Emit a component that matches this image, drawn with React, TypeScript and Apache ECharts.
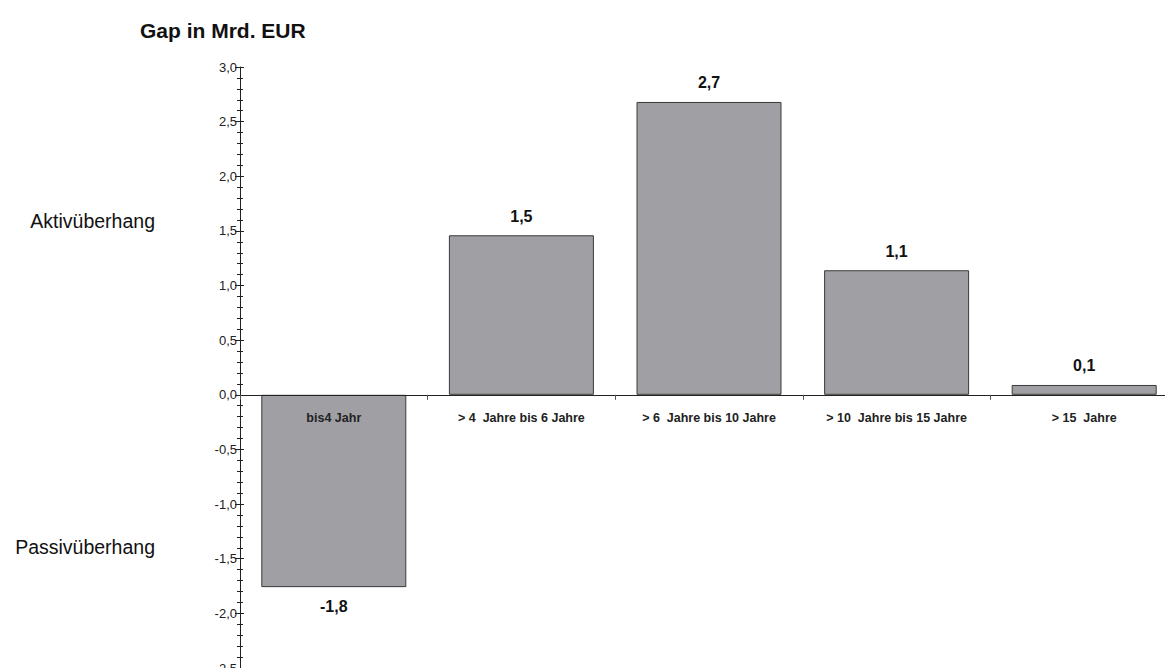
import React, { useEffect, useRef } from "react";
import * as echarts from "echarts";

const categories = ["bis4 Jahr", "> 4  Jahre bis 6 Jahre", "> 6  Jahre bis 10 Jahre", "> 10  Jahre bis 15 Jahre", "> 15  Jahre"];
const gapValues = [-1.76, 1.46, 2.68, 1.14, 0.09];
const yMin = -2.5;
const yMax = 3.0;
const yInterval = 0.5;
const titleText = "Gap in Mrd. EUR";
const upperNote = "Aktivüberhang";
const lowerNote = "Passivüberhang";

const fmt = (v: number) => v.toFixed(1).replace(".", ",");
const fmtRounded = (v: number) => (Math.round(v * 10) / 10).toFixed(1).replace(".", ",");

const GRID_TOP = 67;
const GRID_BOTTOM = 0;
const CHART_H = 668;

export default function App() {
  const ref = useRef<HTMLDivElement>(null);
  useEffect(() => {
    document.body.style.margin = "0";
    const chart = echarts.init(ref.current!, null, { renderer: "svg" });
    const font = "'Liberation Sans', Arial, Helvetica, sans-serif";
    const gridH = CHART_H - GRID_TOP - GRID_BOTTOM;
    const zeroFromBottom = gridH * (0 - yMin) / (yMax - yMin);
    chart.setOption({
      animation: false,
      backgroundColor: "#ffffff",
      textStyle: { fontFamily: font },
      grid: { left: 240, right: -13, top: GRID_TOP, bottom: GRID_BOTTOM, containLabel: false, outerBoundsMode: "none" },
      graphic: [
        { type: "text", x: 140, y: 30, style: { text: titleText, font: `bold 21px ${font}`, fill: "#111", verticalAlign: "middle" } },
        { type: "text", x: 155, y: 221, style: { text: upperNote, font: `19.5px ${font}`, fill: "#111", align: "right", verticalAlign: "middle" } },
        { type: "text", x: 155, y: 547, style: { text: lowerNote, font: `19.5px ${font}`, fill: "#111", align: "right", verticalAlign: "middle" } },
      ],
      xAxis: {
        type: "category",
        data: categories,
        z: 10,
        position: "bottom",
        offset: -zeroFromBottom,
        axisLine: { onZero: false, lineStyle: { color: "#222", width: 1 } },
        axisTick: { show: true, length: 5, inside: false, lineStyle: { color: "#555" } },
        axisLabel: { margin: 17, fontSize: 12.5, fontWeight: "bold", color: "#222", interval: 0 },
        splitLine: { show: false },
      },
      yAxis: [
        {
          type: "value",
          min: yMin,
          max: yMax,
          interval: yInterval,
          position: "left",
          axisLine: { show: true, onZero: false, lineStyle: { color: "#222", width: 1 } },
          axisTick: { show: true, length: 5, inside: false, lineStyle: { color: "#222" } },
          minorTick: { show: true, splitNumber: 5, length: 3, lineStyle: { color: "#222" } },
          axisLabel: { formatter: fmt, fontSize: 13, color: "#222", margin: 3 },
          splitLine: { show: false },
          minorSplitLine: { show: false },
        },
        {
          type: "value",
          min: yMin,
          max: yMax,
          interval: yInterval,
          position: "left",
          offset: 0,
          axisLine: { show: false },
          axisTick: { show: true, length: 4, inside: true, lineStyle: { color: "#222" } },
          minorTick: { show: true, splitNumber: 5, length: 3, lineStyle: { color: "#222" } },
          axisLabel: { show: false },
          splitLine: { show: false },
        },
      ],
      series: [
        {
          type: "bar",
          yAxisIndex: 0,
          barWidth: 145,
          itemStyle: { color: "#a0a0a4", borderColor: "#3a3a3a", borderWidth: 1 },
          data: gapValues.map((v) => ({
            value: v,
            label: { position: v < 0 ? "bottom" : "top" },
          })),
          label: {
            show: true,
            distance: 11,
            fontSize: 16,
            fontWeight: "bold",
            color: "#111",
            formatter: (p: any) => fmtRounded(p.value),
          },
        },
      ],
    });
    return () => chart.dispose();
  }, []);
  return <div ref={ref} style={{ width: 1165, height: 668 }} />;
}
